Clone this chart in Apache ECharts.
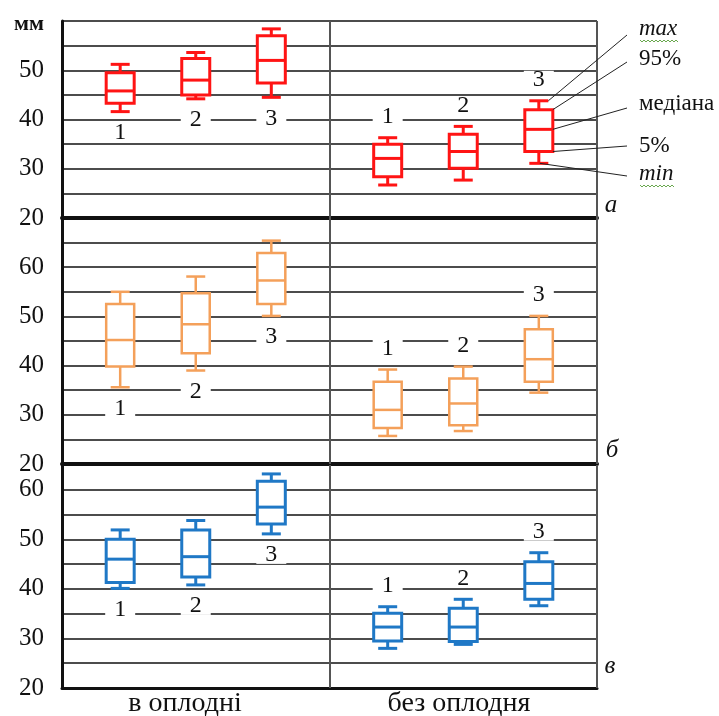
<!DOCTYPE html>
<html>
<head>
<meta charset="utf-8">
<script src="https://cdn.jsdelivr.net/npm/echarts@6/dist/echarts.min.js"></script>
<style>
  html, body { margin: 0; padding: 0; background: #fff; }
  #chart { width: 719px; height: 716px; }
</style>
</head>
<body>
<div id="chart"></div>
<script>
// Groups along the horizontal axis and box numbers inside each group
const groupNames = ['в оплодні', 'без оплодня'];
const boxNumbers = ['1', '2', '3'];
const panelLetters = ['а', 'б', 'в'];

// Y axis ranges of the three panels, мм
const panelMin = [20, 20, 20];
const panelMax = [60, 70, 65];
const unitLabel = 'мм';

// Five-number summaries: [min, 5%, median, 95%, max]
const withPericarpA = [
  [41.6, 43.3, 45.8, 49.5, 51.2],
  [44.2, 45.0, 48.0, 52.4, 53.6],
  [44.5, 47.4, 52.0, 57.0, 58.4]
];
const withoutPericarpA = [
  [26.7, 28.4, 32.1, 35.0, 36.3],
  [27.7, 30.1, 33.5, 37.0, 38.6],
  [31.1, 33.5, 38.0, 42.0, 43.8]
];
const withPericarpB = [
  [35.6, 39.8, 45.2, 52.5, 55.0],
  [39.0, 42.5, 48.4, 54.7, 58.1],
  [50.1, 52.5, 57.3, 62.9, 65.4]
];
const withoutPericarpB = [
  [25.7, 27.3, 31.0, 36.7, 39.2],
  [26.7, 27.9, 32.3, 37.4, 39.8],
  [34.5, 36.7, 41.3, 47.4, 50.1]
];
const withPericarpC = [
  [40.1, 41.3, 46.0, 50.0, 51.9],
  [40.8, 42.4, 46.5, 51.9, 53.8],
  [51.1, 53.1, 56.5, 61.7, 63.2]
];
const withoutPericarpC = [
  [28.0, 29.5, 32.3, 35.1, 36.4],
  [28.8, 29.4, 32.3, 36.1, 37.9],
  [36.6, 37.9, 41.1, 45.5, 47.3]
];

// Legend for the box elements
const legendTerms = ['max', '95%', 'медіана', '5%', 'min'];

const panels = [
  [withPericarpA, withoutPericarpA],
  [withPericarpB, withoutPericarpB],
  [withPericarpC, withoutPericarpC]
];

const FONT = '"Liberation Serif", "Times New Roman", serif';
const panelColors = ['#ff1414', '#f4a05a', '#1f78c6'];
const panelLineWidths = [3, 2.5, 3];

// horizontal layout of boxes: each group spans HALF units, boxes 1 unit apart
const HALF = 3.54;
const FIRST = 0.77;

const gridTops = [21, 218, 465];
const gridHeights = [197, 246, 223];

const chart = echarts.init(document.getElementById('chart'), null, { renderer: 'canvas' });

function makeRenderer(p) {
  return function (params, api) {
    const x = api.value(0);
    const mn = api.value(1), p5 = api.value(2), md = api.value(3), p95 = api.value(4), mx = api.value(5);
    const cx = api.coord([x, md])[0];
    const y = v => api.coord([x, v])[1];
    const half = 14, cap = 9.5;
    const style = { stroke: panelColors[p], lineWidth: panelLineWidths[p], fill: 'none' };
    const idx = params.dataIndex;
    const below = idx < 3;
    const labelY = below ? y(mn) + 21 : y(mx) - 21;
    return {
      type: 'group',
      children: [
        { type: 'line', shape: { x1: cx, y1: y(mx), x2: cx, y2: y(p95) }, style },
        { type: 'line', shape: { x1: cx, y1: y(p5), x2: cx, y2: y(mn) }, style },
        { type: 'line', shape: { x1: cx - cap, y1: y(mx), x2: cx + cap, y2: y(mx) }, style },
        { type: 'line', shape: { x1: cx - cap, y1: y(mn), x2: cx + cap, y2: y(mn) }, style },
        { type: 'rect', shape: { x: cx - half, y: y(p95), width: 2 * half, height: y(p5) - y(p95) },
          style: { stroke: panelColors[p], lineWidth: panelLineWidths[p], fill: '#fff' } },
        { type: 'line', shape: { x1: cx - half, y1: y(md), x2: cx + half, y2: y(md) }, style },
        { type: 'text', style: {
            text: boxNumbers[idx % 3], x: cx, y: labelY,
            font: '24px ' + FONT, fill: '#111', align: 'center', verticalAlign: 'middle',
            backgroundColor: '#fff', padding: [0, 9], lineHeight: 18
          } }
      ]
    };
  };
}

const grids = [], xAxes = [], yAxes = [], series = [];
panels.forEach((pair, p) => {
  grids.push({ left: 62, right: 122, top: gridTops[p], height: gridHeights[p] });
  xAxes.push({
    type: 'value', gridIndex: p, min: 0, max: 2 * HALF,
    axisLine: { show: true, onZero: false, lineStyle: { color: '#111', width: p < 2 ? 4 : 3 } },
    axisTick: { show: false }, axisLabel: { show: false }, splitLine: { show: false }
  });
  yAxes.push({
    type: 'value', gridIndex: p, min: panelMin[p], max: panelMax[p], interval: 5,
    axisLine: { show: true, lineStyle: { color: '#111', width: 3 } },
    axisTick: { show: false },
    axisLabel: {
      margin: 18, fontFamily: FONT, fontSize: 25, color: '#111',
      formatter: v => {
        if (p === 0 && v === panelMax[p]) return '{u|' + unitLabel + '}';
        if (v % 10 === 0 && v < panelMax[p]) return String(v);
        return '';
      },
      rich: { u: { fontFamily: FONT, fontSize: 22, fontWeight: 'bold', color: '#111', padding: [6, 0, 0, 0] } }
    },
    splitLine: { show: true, lineStyle: { color: '#111', width: 1.7 } }
  });
  const data = [];
  pair.forEach((boxes, g) => {
    boxes.forEach((s, i) => data.push([g * HALF + FIRST + i].concat(s)));
  });
  series.push({
    type: 'custom', xAxisIndex: p, yAxisIndex: p, renderItem: makeRenderer(p),
    encode: { x: 0, y: [1, 2, 3, 4, 5] }, data, silent: true, z: 5,
    markLine: {
      silent: true, symbol: ['none', 'none'], label: { show: false }, animation: false,
      lineStyle: { color: '#555', width: 2, type: 'solid' },
      data: [{ xAxis: HALF }, { xAxis: 2 * HALF }]
    }
  });
});

chart.setOption({
  animation: false,
  backgroundColor: '#fff',
  grid: grids, xAxis: xAxes, yAxis: yAxes, series
});

// annotations: legend of box elements with leader lines to the last box of panel а
const refBox = withoutPericarpA[2];
const refX = HALF + FIRST + 2;
const px = v => chart.convertToPixel({ xAxisIndex: 0, yAxisIndex: 0 }, [refX, v]);
const cxRef = px(refBox[2])[0];
const targets = [
  [cxRef + 9.5, px(refBox[4])[1]],
  [cxRef + 14, px(refBox[3])[1]],
  [cxRef + 14, px(refBox[2])[1]],
  [cxRef + 14, px(refBox[1])[1]],
  [cxRef + 1, px(refBox[0])[1]]
];
const termY = [29, 59, 104, 146, 174];
const leaderStartY = [35, 62, 108, 146, 176];
const graphics = [];
legendTerms.forEach((t, k) => {
  const italic = (k === 0 || k === 4);
  graphics.push({
    type: 'text', x: 639, y: termY[k], z: 20,
    style: { text: t, font: (italic ? 'italic ' : '') + '23px ' + FONT, fill: '#111', verticalAlign: 'middle' }
  });
  graphics.push({
    type: 'line', z: 20,
    shape: { x1: 627, y1: leaderStartY[k], x2: targets[k][0], y2: targets[k][1] },
    style: { stroke: '#222', lineWidth: 1 }
  });
  if (italic) {
    const pts = [];
    const w = k === 0 ? 38 : 34;
    for (let i = 0; i <= w; i += 2) pts.push([640 + i, termY[k] + 11 + (i % 4 === 0 ? 0 : 2)]);
    graphics.push({ type: 'polyline', z: 20, shape: { points: pts }, style: { stroke: '#6aa84f', lineWidth: 1, fill: null } });
  }
});

// panel letters
const letterPos = [[611, 205], [612, 450], [610, 666]];
panelLetters.forEach((l, i) => {
  graphics.push({
    type: 'text', x: letterPos[i][0], y: letterPos[i][1], z: 20,
    style: { text: l, font: 'italic 25px ' + FONT, fill: '#111', align: 'center', verticalAlign: 'middle' }
  });
});

// group names under the bottom panel
const groupCenters = [185, 459];
groupNames.forEach((g, i) => {
  graphics.push({
    type: 'text', x: groupCenters[i], y: 704, z: 20,
    style: { text: g, font: '28px ' + FONT, fill: '#111', align: 'center', verticalAlign: 'middle' }
  });
});

chart.setOption({ graphic: graphics });
</script>
</body>
</html>
